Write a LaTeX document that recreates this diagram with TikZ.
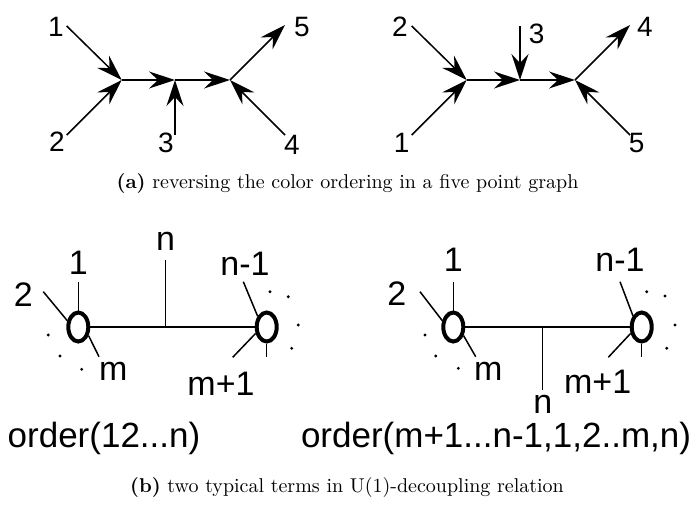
\documentclass[tikz,border=0pt]{standalone}
\usepackage{fontspec}
\newfontfamily\labelfont{Liberation Sans}
\usetikzlibrary{arrows.meta, shapes.geometric}
\tikzset{
  leg/.style={line width=0.75pt},
  arrowleg/.style={leg, -{Stealth[length=13pt, width=8.5pt, inset=4.5pt]}},
  blob/.style={ellipse, draw, line width=2pt, minimum width=10pt,
    minimum height=14.5pt, inner sep=0pt},
  toplbl/.style={font=\labelfont\fontsize{14}{15}\selectfont, inner sep=0pt},
  botlbl/.style={font=\labelfont\fontsize{17}{18}\selectfont, inner sep=0pt},
  ordlbl/.style={font=\labelfont\fontsize{17.5}{18}\selectfont, inner sep=0pt},
  caplbl/.style={font=\fontsize{10}{12}\selectfont, inner sep=0pt},
  dotmark/.style={circle, fill, inner sep=0pt, minimum size=1.6pt}
}

\begin{document}
\begin{tikzpicture}[x=0.5pt, y=-0.5pt]
  \useasboundingbox (0,0) rectangle (695,504);

  % (a) left: order 1 2 3 4 5
  \coordinate (a1) at (121.7,80);
  \coordinate (b1) at (175,80);
  \coordinate (c1) at (230,80);
  \coordinate (e11) at (66.7,26);
  \coordinate (e12) at (66.7,135);
  \coordinate (e13) at (175,135);
  \coordinate (e14) at (285,135);
  \coordinate (e15) at (285,25);
  \draw[arrowleg] (e11) -- (a1);
  \draw[arrowleg] (e12) -- (a1);
  \draw[arrowleg] (a1) -- (b1);
  \draw[arrowleg] (e13) -- (b1);
  \draw[arrowleg] (b1) -- (c1);
  \draw[arrowleg] (e14) -- (c1);
  \draw[arrowleg] (c1) -- (e15);
  \node[toplbl] (l11) at (56,27) {1};
  \node[toplbl] (l12) at (57,142) {2};
  \node[toplbl] (l13) at (166,143) {3};
  \node[toplbl] (l14) at (292,145) {4};
  \node[toplbl] (l15) at (302,27) {5};

  % (a) right: reversed order
  \coordinate (a2) at (466.7,80);
  \coordinate (b2) at (520,80);
  \coordinate (c2) at (575,80);
  \coordinate (e22) at (411.7,26);
  \coordinate (e21) at (411.7,135);
  \coordinate (e23) at (520,26);
  \coordinate (e24) at (630,25);
  \coordinate (e25) at (630,135);
  \draw[arrowleg] (e22) -- (a2);
  \draw[arrowleg] (e21) -- (a2);
  \draw[arrowleg] (a2) -- (b2);
  \draw[arrowleg] (e23) -- (b2);
  \draw[arrowleg] (b2) -- (c2);
  \draw[arrowleg] (e25) -- (c2);
  \draw[arrowleg] (c2) -- (e24);
  \node[toplbl] (l22) at (400,27) {2};
  \node[toplbl] (l21) at (401.7,143) {1};
  \node[toplbl] (l23) at (536.7,34) {3};
  \node[toplbl] (l24) at (645,27) {4};
  \node[toplbl] (l25) at (636.7,143) {5};

  \node[caplbl] (capa) at (347.5,183) {\textbf{(a)} reversing the color ordering in a five point graph};

  % (b) left: order(12...n)
  \node[blob] (L1) at (78.3,327) {};
  \node[blob] (R1) at (266.7,327) {};
  \coordinate (j1) at (165.7,327);
  \coordinate (n1) at (165.7,260);
  \coordinate (t1) at (78.3,281.7);
  \coordinate (t2) at (43.3,291.7);
  \coordinate (tm) at (99,356.7);
  \coordinate (tn1) at (243.3,281.7);
  \coordinate (tma) at (232.7,357.3);
  \coordinate (tmb) at (266.7,357.3);
  \draw[leg] (L1) -- (R1);
  \draw[leg] (j1) -- (n1);
  \draw[leg] (L1.north) -- (t1);
  \draw[leg] (L1.150) -- (t2);
  \draw[leg] (L1.-40) -- (tm);
  \draw[leg] (R1.130) -- (tn1);
  \draw[leg] (R1.210) -- (tma);
  \draw[leg] (R1.south) -- (tmb);
  \node[botlbl] (ln) at (165.7,241.7) {n};
  \node[botlbl] (l1) at (78.3,263) {1};
  \node[botlbl] (l2) at (23.3,295) {2};
  \node[botlbl] (lm) at (113.3,371.7) {m};
  \node[botlbl] (ln1) at (245,263.3) {n-1};
  \node[botlbl] (lm1) at (221,383.3) {m+1};
  \foreach \p in {(48.3,335), (60,356), (81.7,369.3),
                  (270,291.7), (288.3,296.7), (298.3,325), (291.7,348.3)}
    \node[dotmark] at \p {};
  \node[ordlbl] (ord1) at (104,438) {order(12...n)};

  % (b) right: order(m+1...n-1,1,2..m,n)
  \node[blob] (L2) at (453.3,327) {};
  \node[blob] (R2) at (641.7,327) {};
  \coordinate (j2) at (542.7,327);
  \coordinate (n2) at (542.7,390);
  \coordinate (s1) at (453.3,281.7);
  \coordinate (s2) at (420,291.7);
  \coordinate (sm) at (475.7,356.7);
  \coordinate (sn1) at (620,281.7);
  \coordinate (sma) at (608.3,357.3);
  \coordinate (smb) at (641.7,357.3);
  \draw[leg] (L2) -- (R2);
  \draw[leg] (j2) -- (n2);
  \draw[leg] (L2.north) -- (s1);
  \draw[leg] (L2.150) -- (s2);
  \draw[leg] (L2.-40) -- (sm);
  \draw[leg] (R2.128) -- (sn1);
  \draw[leg] (R2.210) -- (sma);
  \draw[leg] (R2.south) -- (smb);
  \node[botlbl] (rn) at (542.7,404) {n};
  \node[botlbl] (r1) at (453.3,260) {1};
  \node[botlbl] (r2) at (396.7,293.3) {2};
  \node[botlbl] (rm) at (488.3,371.7) {m};
  \node[botlbl] (rn1) at (620,260) {n-1};
  \node[botlbl] (rm1) at (597.7,381.7) {m+1};
  \foreach \p in {(425,335), (435.7,356), (458.3,368.3),
                  (646.7,291.7), (665,296), (675,325), (666.7,348.3)}
    \node[dotmark] at \p {};
  \node[ordlbl] (ord2) at (496,438) {order(m+1...n-1,1,2..m,n)};

  \node[caplbl] (capb) at (347,487) {\textbf{(b)} two typical terms in U(1)-decoupling relation};
\end{tikzpicture}
\end{document}
